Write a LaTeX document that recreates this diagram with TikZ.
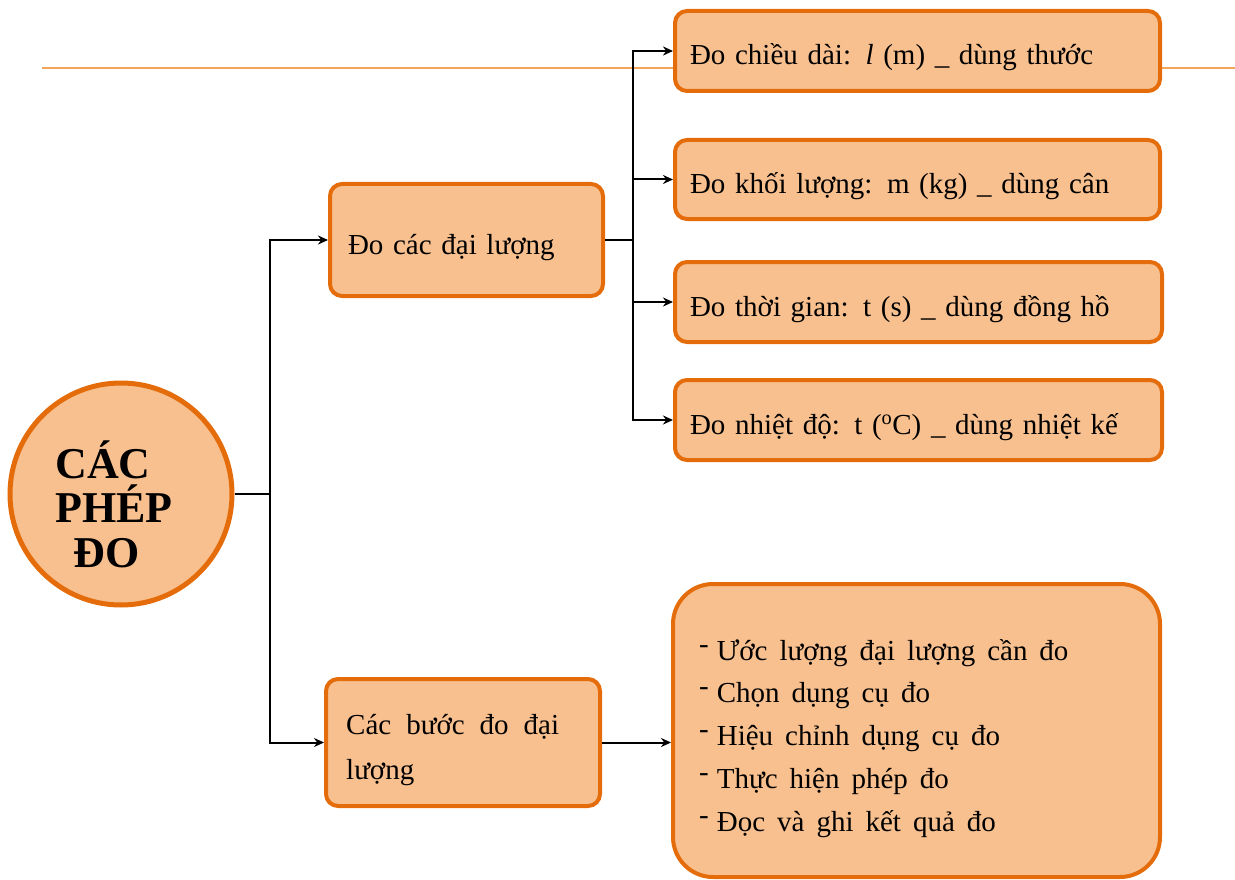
\documentclass[tikz,border=0pt]{standalone}
\usepackage{fontspec}
\setmainfont{Liberation Serif}
\usetikzlibrary{arrows.meta}
\definecolor{peach}{HTML}{F8C08F}
\definecolor{edgeor}{HTML}{E46C0A}
\definecolor{ruleor}{HTML}{F2A65A}
\begin{document}
\begin{tikzpicture}[x=1pt,y=-1pt,
  box/.style={draw=edgeor, fill=peach, line width=4pt, rounded corners=12pt,
    align=left, inner xsep=15pt, font=\fontsize{29}{35}\selectfont},
  linebox/.style={box, text height=28pt, text depth=0pt},
  conn/.style={line width=2pt, black},
  arr/.style={conn, -{Stealth[length=10pt,width=9pt]}}]
\useasboundingbox (0,0) rectangle (1235,880);
% top rule
\coordinate (r0) at (42,68);
\coordinate (r1) at (1235,68);
\draw[ruleor, line width=2pt] (r0) -- (r1);
% circle
\node[circle, draw=edgeor, fill=peach, line width=5pt, minimum size=222pt] (circ) at (121,494) {};
\node[align=left, font=\fontsize{44}{44.5}\selectfont\bfseries] (ctext) at (114,504) {CÁC\\PHÉP\\\hspace{18pt}ĐO};
% level 1
\node[linebox, minimum width=273pt, minimum height=112pt, text width=237pt, inner xsep=18pt] (boxA) at (466.5,240) {Đo các đại lượng};
\node[box, minimum width=274pt, minimum height=127pt] (boxB) at (463,742.5) {};
\node[anchor=north west, inner sep=0pt, align=left, font=\fontsize{29}{45}\selectfont] (boxBtext) at (346,714)
 {Các\hspace{15pt}bước\hspace{15pt}đo\hspace{15pt}đại\\lượng};
% level 2
\node[linebox, minimum width=485pt, minimum height=80pt, text width=455pt] (b1) at (917.5,51) {Đo chiều dài: \textit{l} (m) \_ dùng thước};
\node[linebox, minimum width=485pt, minimum height=79pt, text width=455pt] (b2) at (917.5,179.5) {Đo khối lượng: m (kg) \_ dùng cân};
\node[linebox, minimum width=487pt, minimum height=80pt, text width=457pt] (b3) at (918.5,302) {Đo thời gian: t (s) \_ dùng đồng hồ};
\node[linebox, minimum width=487pt, minimum height=80pt, text width=457pt] (b4) at (918.5,420) {Đo nhiệt độ: t (\textsuperscript{o}C) \_ dùng nhiệt kế};
\node[box, rounded corners=40pt, minimum width=487pt, minimum height=293pt] (bigbox) at (916.5,730.5) {};
\node[anchor=north west, inner sep=0pt, align=left, font=\fontsize{29}{42.7}\selectfont] (bigtext) at (699,639)
 {\raisebox{7pt}{-}\hspace{8pt}Ước\hspace{12pt}lượng\hspace{12pt}đại\hspace{12pt}lượng\hspace{12pt}cần\hspace{12pt}đo\\
  \raisebox{7pt}{-}\hspace{8pt}Chọn\hspace{12pt}dụng\hspace{12pt}cụ\hspace{12pt}đo\\
  \raisebox{7pt}{-}\hspace{8pt}Hiệu\hspace{12pt}chỉnh\hspace{12pt}dụng\hspace{12pt}cụ\hspace{12pt}đo\\
  \raisebox{7pt}{-}\hspace{8pt}Thực\hspace{12pt}hiện\hspace{12pt}phép\hspace{12pt}đo\\
  \raisebox{7pt}{-}\hspace{8pt}Đọc\hspace{12pt}và\hspace{12pt}ghi\hspace{12pt}kết\hspace{12pt}quả\hspace{12pt}đo};
% connectors
\coordinate (j1) at (270,494);
\coordinate (j2) at (633,240);
\draw[conn] (circ.east) -- (j1);
\draw[arr] (j1) |- (boxA.west);
\draw[arr] (j1) |- (boxB.west);
\draw[conn] (boxA.east) -- (j2);
\draw[arr] (j2) |- (b1.west);
\draw[arr] (j2) |- (b2.west);
\draw[arr] (j2) |- (b3.west);
\draw[arr] (j2) |- (b4.west);
\draw[arr] (boxB.east) -- (bigbox.west |- boxB.east);
\end{tikzpicture}
\end{document}
